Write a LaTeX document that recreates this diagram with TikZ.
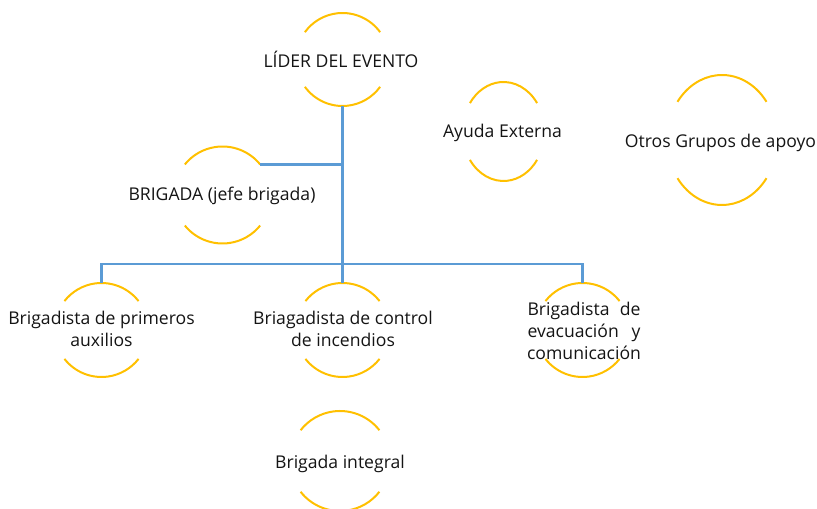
\documentclass[tikz,border=0pt]{standalone}
\usepackage{fontspec}
\setmainfont{Open Sans}
\usetikzlibrary{calc}
\definecolor{arcgold}{HTML}{FFC000}
\definecolor{linkblue}{HTML}{5B9BD5}
\newcommand{\ringarcs}[4]{%
  \draw[ringline] ($(#1.center)+(#4:#2 and #3)$) arc[start angle=#4, end angle=180-#4, x radius=#2, y radius=#3];
  \draw[ringline] ($(#1.center)+(180+#4:#2 and #3)$) arc[start angle=180+#4, end angle=360-#4, x radius=#2, y radius=#3];
}
\tikzset{
  ringline/.style={draw=arcgold, line width=2bp},
  linkline/.style={draw=linkblue, line width=2.2bp},
  labeltext/.style={inner sep=0pt, align=center, text=black!92, font=\fontsize{17.6bp}{22bp}\selectfont},
}
\begin{document}
\begin{tikzpicture}[x=1bp, y=1bp]
\useasboundingbox (0,0) rectangle (817,509);
% nodes
\node[labeltext] (lider) at (341,450) {LÍDER DEL EVENTO};
\node[labeltext] (brigada) at (222,313) {BRIGADA (jefe brigada)};
\node[labeltext] (ayuda) at (502.5,376) {Ayuda Externa};
\node[labeltext] (otros) at (720.5,366) {Otros Grupos de apoyo};
\node[labeltext] (prim) at (101.5,180) {Brigadista de primeros\\auxilios};
\node[labeltext] (ctrl) at (343,180) {Briagadista de control\\de incendios};
\node[labeltext] (evac) at (584,178) {\makebox[113bp][s]{Brigadista de}\\\makebox[113bp][s]{evacuación y}\\comunicación};
\node[labeltext] (integral) at (340,45) {Brigada integral};
% ring centres (arcs)
\coordinate (liderc) at (342.5,449.5);
\coordinate (brigadac) at (222.5,314);
\coordinate (ayudac) at (503.5,377.5);
\coordinate (otrosc) at (722,369);
\coordinate (primc) at (101.5,179);
\coordinate (ctrlc) at (342.5,179);
\coordinate (evacc) at (582.5,179);
\coordinate (integralc) at (340,48);
\ringarcs{liderc}{46.5}{46.5}{36}
\ringarcs{brigadac}{48.5}{48.5}{39}
\ringarcs{ayudac}{41}{49.5}{35}
\ringarcs{otrosc}{55}{65}{36}
\ringarcs{primc}{47}{47}{38}
\ringarcs{ctrlc}{47}{47}{38}
\ringarcs{evacc}{47}{47}{38}
\ringarcs{integralc}{50}{50}{38}
% connector anchor points
\coordinate (liderbot) at ($(liderc)+(0,-46.5)$);
\coordinate (brigadaend) at ($(brigadac)+(39:48.5 and 48.5)$);
\coordinate (brigadajoin) at (liderbot |- brigadaend);
\coordinate (busmid) at (342.5,245);
\coordinate (busleft) at (101.5,245);
\coordinate (busright) at (582.5,245);
\coordinate (primtop) at ($(primc)+(0,47)$);
\coordinate (ctrltop) at ($(ctrlc)+(0,47)$);
\coordinate (evactop) at ($(evacc)+(0,47)$);
% connectors
\draw[linkline] (liderbot) -- (busmid);
\draw[linkline] (brigadaend) -- (brigadajoin);
\draw[linkline] (primtop) -- (busleft) -- (busright) -- (evactop);
\draw[linkline] (busmid) -- (ctrltop);
\end{tikzpicture}
\end{document}
